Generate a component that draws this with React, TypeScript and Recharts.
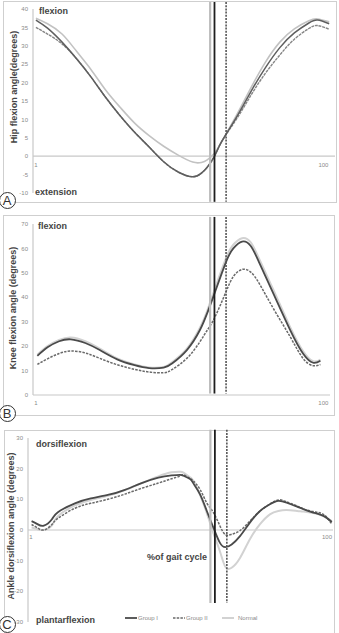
import React from 'react';
import { LineChart, Line, XAxis, YAxis, ReferenceLine } from 'recharts';

// ---------- shared ----------
const seriesNames = ['Group I', 'Group II', 'Normal'];
const xTickValues = [1, 100];
const toeOffGroupI = 62.5;
const toeOffGroupII = 66.5;
const toeOffNormal = 61;

// ---------- A: hip ----------
const hipX = [1, 5, 10, 15, 20, 25, 30, 35, 40, 45, 50, 55, 58, 60, 62.5, 65, 70, 75, 80, 85, 90, 95, 98, 102];
const hipGroupI = [37, 34.8, 31, 26.5, 21.5, 16, 11, 6.5, 2.5, -1.5, -4.3, -5.6, -4.6, -3, 0, 4, 10.5, 17.5, 24, 29.5, 33.5, 36.2, 37, 36];
const hipGroupII = [35, 33.2, 30.5, 26.5, 21.5, 16, 11, 6.5, 2.5, -1.5, -4.3, -5.6, -4.6, -3, 0, 4, 10, 16.5, 22.5, 27.5, 31.8, 34.7, 35.5, 34.5];
const hipNormal = [37.5, 36, 33.2, 28.5, 23.5, 18, 13.3, 9, 5.6, 2.7, 0.3, -1.6, -1.7, -1, 0.8, 4, 11, 18.5, 25.5, 31, 34.6, 36.8, 37.3, 36.5];
const hipYTicks = [-10, -5, 0, 5, 10, 15, 20, 25, 30, 35, 40];

// ---------- B: knee ----------
const kneeX = [1.5, 5, 9, 13, 18, 23, 29, 35, 40, 45, 48, 53, 57.5, 60, 62.5, 66.5, 69, 72, 75, 78, 83, 88.5, 93, 96.5, 99];
const kneeGroupI = [16, 19.5, 22, 22.8, 21.3, 18.4, 14.6, 12.2, 11, 11.2, 13, 18.4, 26.6, 33.5, 41.5, 54.5, 60, 62.8, 61, 54, 41, 26.8, 17, 13.2, 14];
const kneeGroupII = [12.5, 14.8, 17, 18, 17.2, 15, 12.4, 10.5, 9.4, 9.1, 10.5, 15, 21.8, 26.5, 31.5, 42.3, 48.5, 51.4, 50.3, 45.5, 35, 24, 15, 12, 12.5];
const kneeNormal = [16.5, 20, 22.5, 23.5, 22, 19, 15, 12.5, 11.3, 11.5, 13.5, 19, 27.5, 34.5, 43, 56, 61.5, 64.2, 62.5, 55.5, 42.5, 28, 18, 13.8, 14.5];
const kneeYTicks = [0, 10, 20, 30, 40, 50, 60, 70];

// ---------- C: ankle ----------
const ankleX = [1.2, 3, 5.3, 8, 10, 15.7, 21, 27, 32.4, 38, 43.6, 48, 50.8, 52, 54.2, 55.3, 57.5, 59.8, 62, 64.2, 66, 68.1, 70.9, 74.2, 77.6, 80.9, 83.7, 86.5, 90, 92.1, 95.4, 98.8, 101.6];
const ankleGroupI = [2.9, 2, 1.4, 3.5, 5.8, 8.7, 10.3, 11.5, 13.1, 15.3, 17.1, 17.8, 18, 17.7, 16.6, 15.2, 11.7, 6.2, 0.8, -4.2, -5.6, -4.7, -2, 2.4, 6.2, 8.4, 9.5, 8.9, 7.6, 6.8, 5.7, 4.6, 2.6];
const ankleGroupII = [1.8, 0.8, 0, 1.8, 3.8, 7.1, 8.7, 10.1, 11.7, 13.6, 15.3, 16.7, 17.6, 18, 16.8, 16, 13.3, 8.8, 5.7, 1.3, -1.5, -1.4, -0.2, 2.9, 6.2, 8.5, 9.8, 9.2, 7.8, 6.9, 6, 5.1, 1.9];
const ankleNormal = [0.8, 0.3, 0, 1.5, 4.5, 8, 9.8, 11.2, 13, 15.3, 17.5, 18.8, 19, 18.7, 17.2, 16, 11.5, 5.5, -1, -7, -12, -12.3, -9.1, -3, 1.9, 5.1, 6.2, 6.5, 6.2, 6, 5.5, 4.5, 2.9];
const ankleYTicks = [-30, -20, -10, 0, 10, 20, 30];

const build = (x: number[], g1: number[], g2: number[], n: number[]) =>
  x.map((v, i) => ({ x: v, g1: g1[i], g2: g2[i], n: n[i] }));

const hipData = build(hipX, hipGroupI, hipGroupII, hipNormal);
const kneeData = build(kneeX, kneeGroupI, kneeGroupII, kneeNormal);
const ankleData = build(ankleX, ankleGroupI, ankleGroupII, ankleNormal);

const FONT = '"Liberation Sans", Arial, sans-serif';

type LineStyle = { stroke: string; width: number; dash?: string };
type Styles = { g1: LineStyle; g2: LineStyle; n: LineStyle };

const hipStyles: Styles = {
  g1: { stroke: '#5e5e5e', width: 1.5 },
  g2: { stroke: '#858585', width: 1.4, dash: '3 0.8' },
  n: { stroke: '#c2c2c2', width: 1.6 },
};
const mainStyles: Styles = {
  g1: { stroke: '#4a4a4a', width: 1.8 },
  g2: { stroke: '#6a6a6a', width: 1.5, dash: '2.5 1.2' },
  n: { stroke: '#d2d2d2', width: 2 },
};

const XTick = (props: any) => {
  const { x, y, payload, shift } = props;
  return (
    <text x={x} y={y + shift} textAnchor="middle" dominantBaseline="central" fontSize={6} fill="#8a8a8a" fontFamily={FONT}>
      {payload.value}
    </text>
  );
};

type PanelProps = {
  data: any[];
  top: number;
  height: number;
  margin: any;
  yWidth: number;
  xDomain: [number, number];
  yDomain: [number, number];
  yTicks: number[];
  xHeight: number;
  tickShift: number;
  zeroLine: boolean;
  vTop: number;
  vBottom: number;
  styles: Styles;
};

function Panel(p: PanelProps) {
  const s = p.styles;
  return (
    <div style={{ position: 'absolute', left: 0, top: p.top }}>
      <LineChart width={339} height={p.height} data={p.data} margin={p.margin}>
        <XAxis
          dataKey="x"
          type="number"
          domain={p.xDomain}
          ticks={xTickValues}
          allowDataOverflow
          height={p.xHeight}
          axisLine={p.zeroLine ? false : { stroke: '#c8c8c8', strokeWidth: 1.2 }}
          tickLine={false}
          tickSize={0}
          tickMargin={0}
          tick={<XTick shift={p.tickShift} />}
          interval={0}
        />
        <YAxis
          type="number"
          domain={p.yDomain}
          ticks={p.yTicks}
          width={p.yWidth}
          allowDataOverflow
          axisLine={{ stroke: '#c8c8c8', strokeWidth: 1.2 }}
          tickLine={false}
          tickSize={0}
          tickMargin={5}
          interval={0}
          tick={{ fontSize: 6, fill: '#8a8a8a', fontFamily: FONT }}
        />
        {p.zeroLine && <ReferenceLine y={0} stroke="#c8c8c8" strokeWidth={1.2} />}
        <Line dataKey="n" name={seriesNames[2]} type="natural" stroke={s.n.stroke} strokeWidth={s.n.width} dot={false} isAnimationActive={false} />
        <Line dataKey="g2" name={seriesNames[1]} type="natural" stroke={s.g2.stroke} strokeWidth={s.g2.width} strokeDasharray={s.g2.dash} dot={false} isAnimationActive={false} />
        <Line dataKey="g1" name={seriesNames[0]} type="natural" stroke={s.g1.stroke} strokeWidth={s.g1.width} dot={false} isAnimationActive={false} />
        <ReferenceLine segment={[{ x: toeOffNormal, y: p.vTop }, { x: toeOffNormal, y: p.vBottom }]} stroke="#bdbdbd" strokeWidth={2.2} ifOverflow="visible" />
        <ReferenceLine segment={[{ x: toeOffGroupI, y: p.vTop }, { x: toeOffGroupI, y: p.vBottom }]} stroke="#1e1e1e" strokeWidth={1.8} ifOverflow="visible" />
        <ReferenceLine segment={[{ x: toeOffGroupII, y: p.vTop }, { x: toeOffGroupII, y: p.vBottom }]} stroke="#555" strokeWidth={1.6} strokeDasharray="2 1.2" ifOverflow="visible" />
      </LineChart>
    </div>
  );
}

const boxStyle = (left: number, top: number, right: number, bottom: number): React.CSSProperties => ({
  position: 'absolute',
  left,
  top,
  width: right - left,
  height: bottom - top,
  border: '1.5px solid #cfcfcf',
  boxSizing: 'border-box',
});

const labelStyle = (left: number, cy: number): React.CSSProperties => ({
  position: 'absolute',
  left,
  top: cy,
  transform: 'translateY(-50%)',
  fontSize: 9,
  fontWeight: 'bold',
  color: '#444',
  whiteSpace: 'nowrap',
  lineHeight: 1,
});

const yTitleStyle = (cx: number, cy: number): React.CSSProperties => ({
  position: 'absolute',
  left: cx,
  top: cy,
  transform: 'translate(-50%, -50%) rotate(-90deg)',
  fontSize: 9,
  fontWeight: 'bold',
  color: '#444',
  whiteSpace: 'nowrap',
  lineHeight: 1,
});

const circleStyle = (cx: number, cy: number): React.CSSProperties => ({
  position: 'absolute',
  left: cx - 8.5,
  top: cy - 8.5,
  width: 17,
  height: 17,
  borderRadius: '50%',
  border: '1px solid #333',
  boxSizing: 'border-box',
  background: '#fff',
  fontSize: 13,
  color: '#333',
  display: 'flex',
  alignItems: 'center',
  justifyContent: 'center',
  lineHeight: 1,
});

const legendStyles = [mainStyles.g1, mainStyles.g2, mainStyles.n];
const legendWidths = [48, 49, 40];

export default function App() {
  return (
    <div style={{ position: 'absolute', left: 0, top: 0, width: 339, height: 633, overflow: 'hidden', background: '#fff', fontFamily: FONT }}>
      <div style={boxStyle(3, 1, 337, 203)} />
      <div style={boxStyle(3, 215, 335, 416)} />
      <div style={boxStyle(4, 430, 335, 645)} />

      <Panel data={hipData} top={0} height={205} margin={{ top: 9, right: 4, left: 0, bottom: 0 }} yWidth={33} xHeight={12}
        xDomain={[0, 104]} yDomain={[-10, 40]} yTicks={hipYTicks} tickShift={-28} zeroLine vTop={41.9} vBottom={-12.4} styles={hipStyles} />
      <Panel data={kneeData} top={210} height={210} margin={{ top: 14, right: 9, left: 0, bottom: 0 }} yWidth={33} xHeight={25}
        xDomain={[0, 102.3]} yDomain={[0, 70]} yTicks={kneeYTicks} tickShift={8} zeroLine={false} vTop={72.9} vBottom={0.6} styles={mainStyles} />
      <Panel data={ankleData} top={425} height={208} margin={{ top: 13, right: 6, left: 0, bottom: 0 }} yWidth={28} xHeight={11}
        xDomain={[0, 102]} yDomain={[-30, 30]} yTicks={ankleYTicks} tickShift={-85} zeroLine vTop={32.7} vBottom={-23.8} styles={mainStyles} />

      <div style={yTitleStyle(13.5, 87)}>Hip flexion angle(degrees)</div>
      <div style={yTitleStyle(13, 308)}>Knee flexion angle (degrees)</div>
      <div style={yTitleStyle(11, 526)}>Ankle dorsiflexion angle (degrees)</div>

      <div style={labelStyle(39, 11)}>flexion</div>
      <div style={labelStyle(35, 192)}>extension</div>
      <div style={labelStyle(38, 226)}>flexion</div>
      <div style={labelStyle(36, 444)}>dorsiflexion</div>
      <div style={labelStyle(36, 620)}>plantarflexion</div>
      <div style={labelStyle(147, 557)}>%of gait cycle</div>

      <div style={{ position: 'absolute', left: 125, top: 614, display: 'flex', alignItems: 'center', height: 8 }}>
        {seriesNames.map((name, i) => (
          <div key={name} style={{ display: 'flex', alignItems: 'center', width: legendWidths[i] }}>
            <svg width={12} height={4} style={{ display: 'block' }}>
              <line x1={0} y1={2} x2={12} y2={2} stroke={legendStyles[i].stroke} strokeWidth={legendStyles[i].width} strokeDasharray={legendStyles[i].dash} />
            </svg>
            <span style={{ fontSize: 6, color: '#8a8a8a', marginLeft: i === 2 ? 4 : 1, whiteSpace: 'nowrap' }}>{name}</span>
          </div>
        ))}
      </div>

      <div style={circleStyle(7, 200)}>A</div>
      <div style={circleStyle(7, 413)}>B</div>
      <div style={circleStyle(7, 624)}>C</div>
    </div>
  );
}
